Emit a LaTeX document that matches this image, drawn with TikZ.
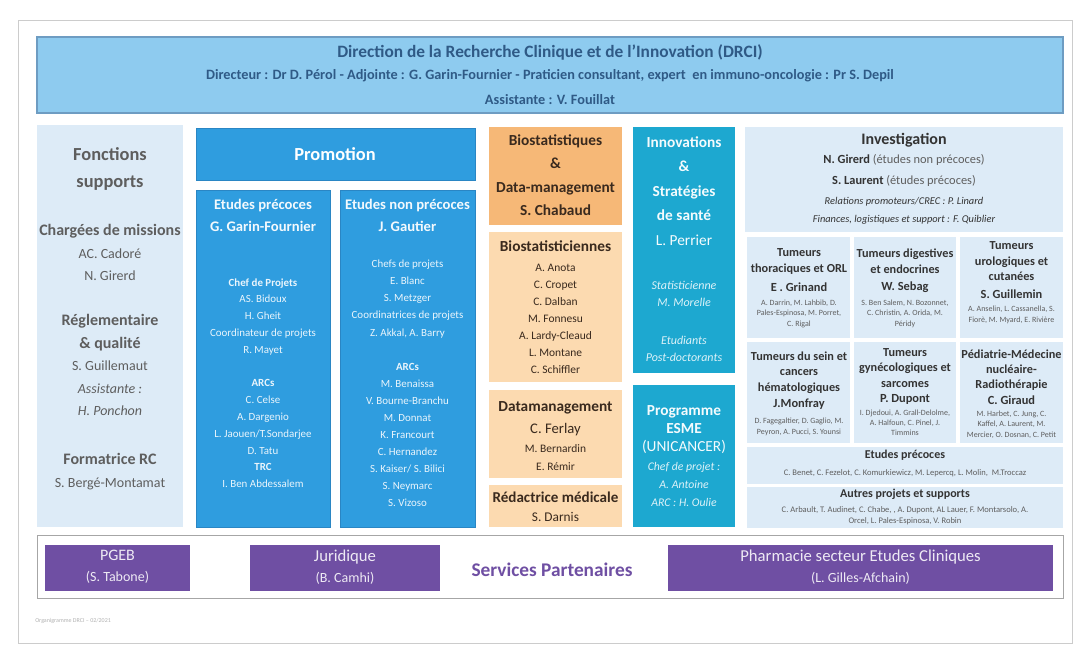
\documentclass[tikz,border=0pt]{standalone}
\usepackage{fontspec}
\setmainfont{Carlito}
\definecolor{hdrfill}{HTML}{8ECBEF}
\definecolor{hdrline}{HTML}{6E9CC2}
\definecolor{hdrtext}{HTML}{2F5A86}
\definecolor{pale}{HTML}{DDEBF7}
\definecolor{promo}{HTML}{2F9DDF}
\definecolor{promoline}{HTML}{2A86C4}
\definecolor{orangeA}{HTML}{F6B877}
\definecolor{orangeB}{HTML}{FCDAB0}
\definecolor{teal}{HTML}{1DA8D0}
\definecolor{purp}{HTML}{6F4FA3}
\definecolor{greytxt}{HTML}{5E5E5E}
\definecolor{darktxt}{HTML}{3A2A1E}
\definecolor{invtxt}{HTML}{333333}
\newcommand\myfs[2]{\fontsize{#1}{#2}\selectfont}
\tikzset{
  txt/.style={inner sep=0pt, align=center},
  hdrbox/.style={fill=hdrfill, draw=hdrline, line width=0.8pt},
  palebox/.style={fill=pale, draw=none},
  promobox/.style={fill=promo, draw=promoline, line width=0.5pt},
  orA/.style={fill=orangeA, draw=none},
  orB/.style={fill=orangeB, draw=none},
  tealbox/.style={fill=teal, draw=none},
  purpbox/.style={fill=purp, draw=none},
  frame/.style={draw=black!35, line width=0.6pt, fill=white},
}
\begin{document}
\begin{tikzpicture}[x=0.75pt,y=-0.75pt]
\useasboundingbox (0,0) rectangle (1088,657);
\fill[white] (0,0) rectangle (1088,657);
\draw[black!20, line width=0.5pt] (18,20) rectangle (1072,643);

% Header
\draw[hdrbox] (37,37) rectangle (1063,113);
\node[txt, text=hdrtext, font=\bfseries\myfs{13}{15}] (title) at (550,52) {Direction de la Recherche Clinique et de l'Innovation (DRCI)};
\node[txt, text=hdrtext, font=\bfseries\myfs{10.7}{12}] (dir) at (550,76) {Directeur : Dr D. Pérol - Adjointe : G. Garin-Fournier - Praticien consultant, expert\ \ en immuno-oncologie : Pr S. Depil};
\node[txt, text=hdrtext, font=\bfseries\myfs{10.7}{12}] (asst) at (550,100) {Assistante : V. Fouillat};

% Fonctions supports
\draw[palebox] (37,125) rectangle (183,527);
\node[txt, text=greytxt, font=\bfseries\myfs{13.8}{20.25}] (fs) at (110,168.5) {Fonctions\\supports};
\node[txt, text=greytxt, font=\myfs{10.5}{16.9}] (cm) at (110,252.5) {\myfs{12}{16.9}\bfseries Chargées de missions\\AC. Cadoré\\N. Girerd};
\node[txt, text=greytxt, font=\myfs{10.5}{16.9}] (rq) at (110,365) {\myfs{12}{16.9}\bfseries Réglementaire\\\myfs{12}{16.9}\bfseries \& qualité\\S. Guillemaut\\\itshape Assistante :\\\itshape H. Ponchon};
\node[txt, text=greytxt, font=\myfs{10.5}{17}] (frc) at (110,471.5) {\myfs{12}{17}\bfseries Formatrice RC\\S. Bergé-Montamat};

% Promotion
\draw[promobox] (196,128) rectangle (475,180);
\node[txt, text=white, font=\bfseries\myfs{13.8}{15}] (promo) at (335,154) {Promotion};
\draw[promobox] (196,190) rectangle (330,527);
\draw[promobox] (340,190) rectangle (475,527);
\node[txt, text=white!94!promo, font=\bfseries\myfs{11}{16.5}] (ep) at (263,215) {Etudes précoces\\G. Garin-Fournier};
\node[txt, text=white!90!promo, font=\myfs{8.2}{12.6}] (eplist) at (263,383) {\bfseries Chef de Projets\\AS. Bidoux\\H. Gheit\\Coordinateur de projets\\R. Mayet\\[12.6pt]\bfseries ARCs\\C. Celse\\A. Dargenio\\L. Jaouen/T.Sondarjee\\D. Tatu\\\bfseries TRC\\I. Ben Abdessalem};
\node[txt, text=white!94!promo, font=\bfseries\myfs{11}{16.5}] (enp) at (407.5,215) {Etudes non précoces\\J. Gautier};
\node[txt, text=white!90!promo, font=\myfs{8.2}{12.8}] (enplist) at (407.5,383.5) {Chefs de projets\\E. Blanc\\S. Metzger\\Coordinatrices de projets\\Z. Akkal, A. Barry\\[12.8pt]\bfseries ARCs\\M. Benaissa\\V. Bourne-Branchu\\M. Donnat\\K. Francourt\\C. Hernandez\\S. Kaiser/ S. Bilici\\S. Neymarc\\S. Vizoso};

% Biostatistiques
\draw[orA] (489,127) rectangle (622,225);
\node[txt, text=darktxt, font=\bfseries\myfs{11.5}{17.5}] (bio) at (555.5,175) {Biostatistiques\\\&\\Data-management\\S. Chabaud};
\draw[orB] (489,232) rectangle (622,382);
\node[txt, text=darktxt, font=\bfseries\myfs{11.5}{13}] (biot) at (555.5,246) {Biostatisticiennes};
\node[txt, text=darktxt, font=\myfs{8.6}{12.75}] (biol) at (555.5,319) {A. Anota\\C. Cropet\\C. Dalban\\M. Fonnesu\\A. Lardy-Cleaud\\L. Montane\\C. Schiffler};
\draw[orB] (489,390) rectangle (622,478);
\node[txt, text=darktxt, font=\bfseries\myfs{11.5}{13}] (dmt) at (555.5,408) {Datamanagement};
\node[txt, text=darktxt, font=\myfs{11}{13}] (dmf) at (555.5,430) {C. Ferlay};
\node[txt, text=darktxt, font=\myfs{8.6}{13.5}] (dml) at (555.5,458) {M. Bernardin\\E. Rémir};
\draw[orB] (489,485) rectangle (622,527);
\node[txt, text=darktxt, font=\bfseries\myfs{11.3}{13}] (red) at (555.5,497) {Rédactrice médicale};
\node[txt, text=darktxt, font=\myfs{10}{12}] (redn) at (555.5,517) {S. Darnis};

% Innovations
\draw[tealbox] (633,127) rectangle (735,373);
\node[txt, text=white!95!teal, font=\bfseries\myfs{11.5}{18.4}] (inno) at (684,191) {Innovations\\\&\\Stratégies\\de santé\\\mdseries L. Perrier};
\node[txt, text=white!85!teal, font=\itshape\myfs{9}{12.75}] (stat) at (684,293.5) {Statisticienne\\M. Morelle};
\node[txt, text=white!85!teal, font=\itshape\myfs{9}{12.75}] (etu) at (684,348.5) {Etudiants\\Post-doctorants};
\draw[tealbox] (633,385) rectangle (735,527);
\node[txt, text=white!95!teal, font=\bfseries\myfs{11.5}{13.5}] (esme) at (684,430) {Programme\\ESME\\\mdseries (UNICANCER)};
\node[txt, text=white!85!teal, font=\itshape\myfs{8.8}{13.5}] (esmel) at (684,484) {Chef de projet :\\A. Antoine\\ARC : H. Oulie};

% Investigation
\draw[palebox] (745,127) rectangle (1063,232);
\node[txt, text=invtxt, font=\bfseries\myfs{12}{14}] (inv) at (904,140) {Investigation};
\node[txt, text=invtxt, font=\myfs{9.3}{15.75}] (invn) at (904,170.5) {\textbf{N. Girerd} {\color{greytxt}(études non précoces)}\\\textbf{S. Laurent} {\color{greytxt}(études précoces)}};
\node[txt, text=invtxt, font=\itshape\myfs{7.8}{13.5}] (invr) at (904,211) {Relations promoteurs/CREC : P. Linard\\Finances, logistiques et support : F. Quiblier};

\draw[palebox] (747,237) rectangle (850,338);
\draw[palebox] (854,237) rectangle (956,338);
\draw[palebox] (960,237) rectangle (1063,338);
\node[txt, text=invtxt, font=\bfseries\myfs{9.2}{12}] (t1) at (799,261) {Tumeurs\\thoraciques et ORL};
\node[txt, text=invtxt, font=\bfseries\myfs{9.3}{10}] (t1n) at (799,287) {E . Grinand};
\node[txt, text=greytxt, font=\myfs{6}{7.9}] (t1l) at (799,313.5) {A. Darrin, M. Lahbib, D.\\Pales-Espinosa, M. Porret,\\C. Rigal};
\node[txt, text=invtxt, font=\bfseries\myfs{9.2}{12}] (t2) at (905,261) {Tumeurs digestives\\et endocrines};
\node[txt, text=invtxt, font=\bfseries\myfs{9.3}{10}] (t2n) at (905,287) {W. Sebag};
\node[txt, text=greytxt, font=\myfs{6}{7.9}] (t2l) at (905,313.5) {S. Ben Salem, N. Bozonnet,\\C. Christin, A. Orida, M.\\Péridy};
\node[txt, text=invtxt, font=\bfseries\myfs{9.2}{11.6}] (t3) at (1011.5,261.5) {Tumeurs\\urologiques et\\cutanées};
\node[txt, text=invtxt, font=\bfseries\myfs{9.3}{10}] (t3n) at (1011.5,294) {S. Guillemin};
\node[txt, text=greytxt, font=\myfs{6}{8.2}] (t3l) at (1011.5,314.5) {A. Anselin, L. Cassanella, S.\\Fiorè, M. Myard, E. Rivière};

\draw[palebox] (747,342) rectangle (850,443);
\draw[palebox] (854,342) rectangle (956,443);
\draw[palebox] (960,342) rectangle (1063,443);
\node[txt, text=invtxt, font=\bfseries\myfs{9.2}{11.6}] (t4) at (799,372.5) {Tumeurs du sein et\\cancers\\hématologiques};
\node[txt, text=invtxt, font=\bfseries\myfs{9.3}{10}] (t4n) at (799,404) {J.Monfray};
\node[txt, text=greytxt, font=\myfs{6}{8.2}] (t4l) at (799,426.5) {D. Fagegaltier, D. Gaglio, M.\\Peyron, A. Pucci, S. Younsi};
\node[txt, text=invtxt, font=\bfseries\myfs{9.2}{11.3}] (t5) at (905,368) {Tumeurs\\gynécologiques et\\sarcomes};
\node[txt, text=invtxt, font=\bfseries\myfs{9.3}{10}] (t5n) at (905,399) {P. Dupont};
\node[txt, text=greytxt, font=\myfs{6}{7.5}] (t5l) at (905,423) {I. Djedoui, A. Grall-Delolme,\\A. Halfoun, C. Pinel, J.\\Timmins};
\node[txt, text=invtxt, font=\bfseries\myfs{9.2}{11.3}] (t6) at (1011.5,370) {Pédiatrie-Médecine\\nucléaire-\\Radiothérapie};
\node[txt, text=invtxt, font=\bfseries\myfs{9.3}{10}] (t6n) at (1011.5,400) {C. Giraud};
\node[txt, text=greytxt, font=\myfs{6}{7.9}] (t6l) at (1011.5,424.5) {M. Harbet, C. Jung, C.\\Kaffel, A. Laurent, M.\\Mercier, O. Dosnan, C. Petit};

\draw[palebox] (747,447) rectangle (1063,484);
\node[txt, text=invtxt, font=\bfseries\myfs{9}{10}] (epi) at (905,455) {Etudes précoces};
\node[txt, text=greytxt, font=\myfs{6.4}{8}] (epil) at (905,473) {C. Benet, C. Fezelot, C. Komurkiewicz, M. Lepercq, L. Molin,\ \ M.Troccaz};
\draw[palebox] (747,487) rectangle (1063,528);
\node[txt, text=invtxt, font=\bfseries\myfs{9}{10}] (aut) at (905,494) {Autres projets et supports};
\node[txt, text=greytxt, font=\myfs{6.4}{8.2}] (autl) at (905,515.5) {C. Arbault, T. Audinet, C. Chabe, , A. Dupont, AL Lauer, F. Montarsolo, A.\\Orcel, L. Pales-Espinosa, V. Robin};

% Services partenaires
\draw[frame] (37,535) rectangle (1063,598);
\draw[purpbox] (45,545) rectangle (190,591);
\node[txt, text=white!88!purp, font=\myfs{12}{16}] (pgeb) at (117.5,567) {PGEB\\\myfs{10.5}{16}(S. Tabone)};
\draw[purpbox] (250,545) rectangle (440,591);
\node[txt, text=white!88!purp, font=\myfs{12.5}{16}] (jur) at (345,567) {Juridique\\\myfs{10.5}{16}(B. Camhi)};
\node[txt, text=purp, font=\bfseries\myfs{14.5}{16}] (sp) at (552,570) {Services Partenaires};
\draw[purpbox] (668,545) rectangle (1053,591);
\node[txt, text=white!88!purp, font=\myfs{12.5}{16}] (pha) at (860.5,567) {Pharmacie secteur Etudes Cliniques\\\myfs{10.5}{16}(L. Gilles-Afchain)};

% footer
\node[txt, anchor=west, text=black!30, font=\myfs{4.5}{5}] (foot) at (35,621) {Organigramme DRCI -- 02/2021};
\end{tikzpicture}
\end{document}
